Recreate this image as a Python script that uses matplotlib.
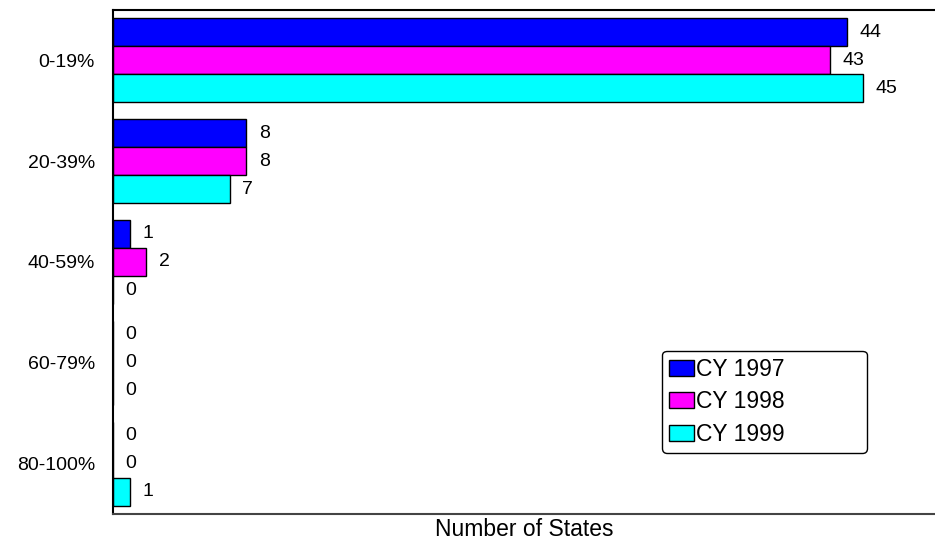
import numpy as np
import matplotlib.pyplot as plt

plt.rcParams['font.family'] = ['Liberation Sans', 'DejaVu Sans']

categories = ['0-19%', '20-39%', '40-59%', '60-79%', '80-100%']
series = ['CY 1997', 'CY 1998', 'CY 1999']
cy1997 = [44, 8, 1, 0, 0]
cy1998 = [43, 8, 2, 0, 0]
cy1999 = [45, 7, 0, 0, 1]
colors = ['#0000ff', '#ff00ff', '#00ffff']

fig = plt.figure(figsize=(9.35, 5.41), dpi=100)
ax = fig.add_axes([113 / 935, 27 / 541, 822 / 935, 504 / 541])

y = np.arange(len(categories))
h = 0.278
for i, (name, vals) in enumerate(zip(series, [cy1997, cy1998, cy1999])):
  bars = ax.barh(y + (i - 1) * h, vals, height=h, color=colors[i],
                 edgecolor='black', linewidth=1.0, label=name)
  ax.bar_label(bars, labels=[str(v) for v in vals], padding=9, fontsize=14)

ax.set_xlim(0, 49.3)
ax.set_ylim(len(categories) - 0.5, -0.5)
ax.set_yticks(y)
ax.set_yticklabels(categories, fontsize=14)
ax.tick_params(axis='y', length=0, pad=13)
ax.set_xticks([])
ax.set_xlabel('Number of States', fontsize=16.5, labelpad=3)
ax.spines['right'].set_visible(False)
for s in ['left', 'top', 'bottom']:
  ax.spines[s].set_linewidth(1.5)
ax.spines['bottom'].set_color('#444444')

# legend box spans roughly x 662-867, y 351-450 px
leg = ax.legend(loc='upper left', bbox_to_anchor=(0.668, 0.127, 0.249, 0.197),
                mode='expand', fontsize=16.5,
                frameon=True, fancybox=True, edgecolor='black', framealpha=1,
                handlelength=1.1, handleheight=0.7, handletextpad=0.1,
                borderpad=0.3, labelspacing=0.42, borderaxespad=0)
leg.get_frame().set_linewidth(1.0)

fig.savefig('out.png', dpi=100)
